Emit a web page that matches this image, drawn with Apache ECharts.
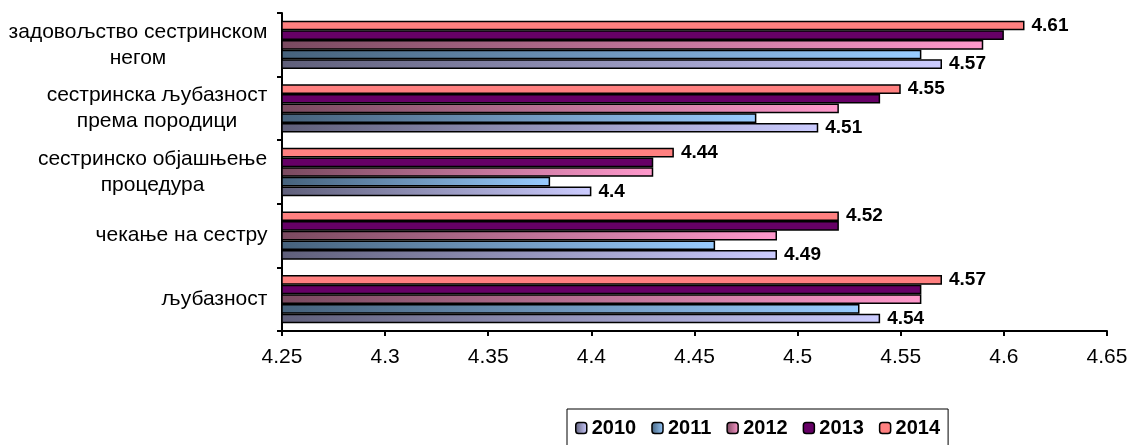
<!DOCTYPE html>
<html>
<head>
<meta charset="utf-8">
<script src="https://cdn.jsdelivr.net/npm/echarts@6/dist/echarts.min.js"></script>
<style>html,body{margin:0;padding:0;background:#fff;}#c{width:1137px;height:445px;}</style>
</head>
<body>
<div id="c"></div>
<script>
// Categories listed top to bottom
const categories = ['задовољство сестринском\nнегом', 'сестринска љубазност\nпрема породици', 'сестринско објашњење\nпроцедура', 'чекање на сестру', 'љубазност'];
const years = ['2010', '2011', '2012', '2013', '2014'];
const v2010 = [4.57, 4.51, 4.40, 4.49, 4.54];
const v2011 = [4.56, 4.48, 4.38, 4.46, 4.53];
const v2012 = [4.59, 4.52, 4.43, 4.49, 4.56];
const v2013 = [4.60, 4.54, 4.43, 4.52, 4.56];
const v2014 = [4.61, 4.55, 4.44, 4.52, 4.57];
const xTicks = { min: 4.25, max: 4.65, interval: 0.05 };

const FONT = 'Liberation Sans, Arial, sans-serif';
const chart = echarts.init(document.getElementById('c'));

function grad(dark, light) {
  return new echarts.graphic.LinearGradient(0, 0, 1, 0, [
    { offset: 0, color: dark }, { offset: 1, color: light }
  ]);
}
const colors = [
  grad('#5f5f7a', '#ccccff'),
  grad('#46627c', '#99ccff'),
  grad('#7a4a60', '#ff99cc'),
  '#660066',
  '#ff8080'
];
const seriesValues = [v2010, v2011, v2012, v2013, v2014];
const labelled = [true, false, false, false, true];

// measure widths for centered multi-line category labels
const CAT_SIZE = 21;
const cv = document.createElement('canvas').getContext('2d');
cv.font = CAT_SIZE + 'px ' + FONT;
const rich = {};
categories.forEach((c, i) => {
  const w = Math.max(...c.split('\n').map(l => cv.measureText(l).width));
  rich['c' + i] = { width: Math.ceil(w) + 1, align: 'center', fontSize: CAT_SIZE, fontFamily: FONT, color: '#000', lineHeight: 26 };
});

// build series; ECharts stacks the first series at the top of a band, so add newest first
const series = years.map((y, i) => ({
  name: y,
  type: 'bar',
  data: seriesValues[i],
  barGap: '0%',
  barCategoryGap: '24%',
  itemStyle: { color: colors[i], borderColor: '#000', borderWidth: 1.5 },
  label: {
    show: labelled[i],
    position: 'right',
    distance: 7,
    fontFamily: FONT,
    fontSize: 19,
    fontWeight: 'bold',
    color: '#000',
    formatter: p => String(p.value)
  }
})).reverse();

chart.setOption({
  animation: false,
  backgroundColor: '#fff',
  grid: { left: 282, right: 30, top: 13, bottom: 114, containLabel: false },
  legend: {
    data: years,
    left: 567,
    top: 409,
    selectedMode: false,
    itemWidth: 11,
    itemHeight: 11,
    itemGap: 15,
    padding: [9, 8, 14, 8],
    borderColor: '#000',
    borderWidth: 1,
    backgroundColor: '#fff',
    itemStyle: { borderColor: '#000', borderWidth: 1.5 },
    textStyle: { fontFamily: FONT, fontSize: 20, fontWeight: 'bold', color: '#000' }
  },
  xAxis: {
    type: 'value',
    min: xTicks.min,
    max: xTicks.max,
    interval: xTicks.interval,
    axisLine: { show: true, lineStyle: { color: '#000', width: 2 } },
    axisTick: { show: true, length: 5, lineStyle: { color: '#000', width: 2 } },
    splitLine: { show: false },
    axisLabel: { fontFamily: FONT, fontSize: 21, color: '#000', margin: 16,
      formatter: v => String(parseFloat(v.toFixed(2))) }
  },
  yAxis: {
    type: 'category',
    inverse: true,
    data: categories,
    axisLine: { show: true, lineStyle: { color: '#000', width: 2 } },
    axisTick: { show: true, length: 5, lineStyle: { color: '#000', width: 2 } },
    axisLabel: {
      margin: 14,
      formatter: (val, idx) => val.split('\n').map(l => '{c' + idx + '|' + l + '}').join('\n'),
      rich: rich
    }
  },
  series: series
});
</script>
</body>
</html>
